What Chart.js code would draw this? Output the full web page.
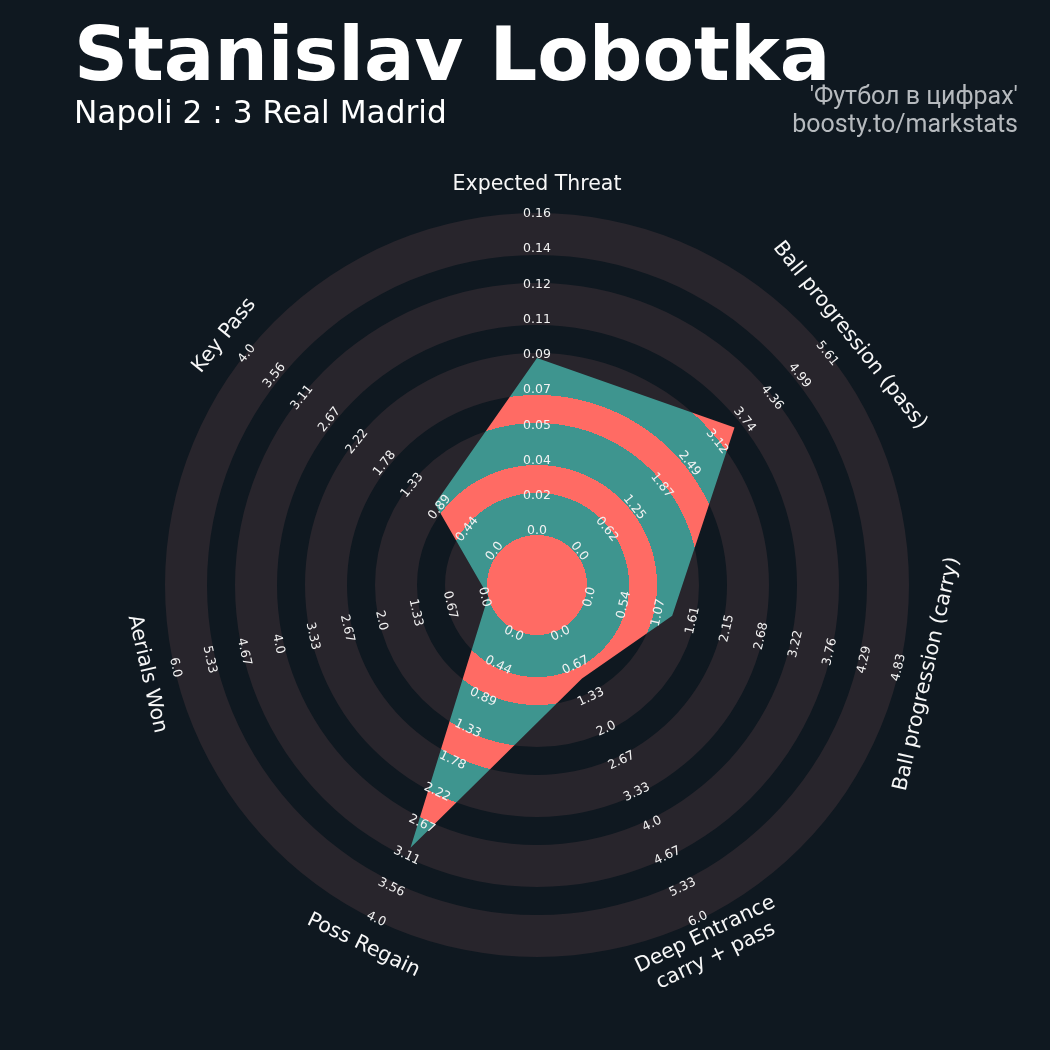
<!DOCTYPE html>
<html>
<head>
<meta charset="utf-8">
<script src="https://cdn.jsdelivr.net/npm/chart.js@4.4.1/dist/chart.umd.min.js"></script>
<style>
  html, body { margin: 0; padding: 0; background: #0f1820; }
  #wrap { position: relative; width: 1050px; height: 1050px; overflow: hidden; }
  #radar { position: absolute; left: 0; top: 0; }
  .txt { position: absolute; white-space: nowrap; line-height: 1; }
  #title { left: 74px; top: 10px; font: bold 75px "DejaVu Sans"; color: #ffffff; }
  #subtitle { left: 74px; top: 94px; font: 31.2px "DejaVu Sans"; color: #ffffff; }
  .credit { right: 32px; font: 25px Roboto; color: #b6babe; text-align: right; }
  #credit1 { top: 81px; }
  #credit2 { top: 109px; }
</style>
</head>
<body>
<div id="wrap">
  <canvas id="radar" width="1050" height="1050"></canvas>
  <div class="txt" id="title">Stanislav Lobotka</div>
  <div class="txt" id="subtitle">Napoli 2 : 3 Real Madrid</div>
  <div class="txt credit" id="credit1">'Футбол в цифрах'</div>
  <div class="txt credit" id="credit2">boosty.to/markstats</div>
</div>
<script>
// parameters, clockwise from the top
const params = [
  ["Expected Threat"],
  ["Ball progression (pass)"],
  ["Ball progression (carry)"],
  ["Deep Entrance", "carry + pass"],
  ["Poss Regain"],
  ["Aerials Won"],
  ["Key Pass"],
];
const lowRange = [0, 0, 0, 0, 0, 0, 0];
const highRange = [0.16, 5.61, 4.83, 6.0, 4.0, 6.0, 4.0];
const values = [0.088, 3.53, 1.33, 1.0, 3.0, 0.0, 1.0];

// range labels printed on each axis (inner -> outer)
const tickLabels = [
  ["0.0", "0.02", "0.04", "0.05", "0.07", "0.09", "0.11", "0.12", "0.14", "0.16"],
  ["0.0", "0.62", "1.25", "1.87", "2.49", "3.12", "3.74", "4.36", "4.99", "5.61"],
  ["0.0", "0.54", "1.07", "1.61", "2.15", "2.68", "3.22", "3.76", "4.29", "4.83"],
  ["0.0", "0.67", "1.33", "2.0", "2.67", "3.33", "4.0", "4.67", "5.33", "6.0"],
  ["0.0", "0.44", "0.89", "1.33", "1.78", "2.22", "2.67", "3.11", "3.56", "4.0"],
  ["0.0", "0.67", "1.33", "2.0", "2.67", "3.33", "4.0", "4.67", "5.33", "6.0"],
  ["0.0", "0.44", "0.89", "1.33", "1.78", "2.22", "2.67", "3.11", "3.56", "4.0"],
];

const STEPS = 9; // intervals between range labels
const CENTER_FRAC = 50 / 372; // centre circle radius / full radius
const RING_GRAY = "#28252c";
const POLY_TEAL = "#3e958f";
const POLY_RED = "#ff6b64";

// value 0 sits on the edge of the centre circle
const scaleMin = -STEPS * CENTER_FRAC / (1 - CENTER_FRAC);

const scaled = values.map((v, i) => (v - lowRange[i]) / (highRange[i] - lowRange[i]) * STEPS);

// ring geometry: centre circle, then 5 gray bands and 4 gaps (3:2 widths)
function ringBands(scale) {
  const rc = scale.getDistanceFromCenterForValue(0);
  const R = scale.drawingArea;
  const part = (R - rc) / 23;
  const rings = [];
  for (let j = 0; j < 5; j++) {
    const inner = rc + j * 5 * part;
    rings.push([inner, inner + 3 * part]);
  }
  return { center: rc, rings: rings, R: R };
}

function polyFill(context) {
  const chart = context.chart;
  const s = chart.scales.r;
  if (!s || !s.drawingArea) return POLY_TEAL;
  const b = ringBands(s);
  const g = chart.ctx.createRadialGradient(s.xCenter, s.yCenter, 0, s.xCenter, s.yCenter, b.R);
  const f = (r) => Math.min(1, r / b.R);
  g.addColorStop(0, POLY_RED);
  g.addColorStop(f(b.center), POLY_RED);
  b.rings.forEach(([a, o], j) => {
    g.addColorStop(f(a), POLY_TEAL);
    g.addColorStop(f(o), POLY_TEAL);
    if (j < b.rings.length - 1) {
      g.addColorStop(f(o), POLY_RED);
      g.addColorStop(f(b.rings[j + 1][0]), POLY_RED);
    }
  });
  return g;
}

// rotate text along the circle, flipping the lower half so it reads upright
function textRotation(angle) {
  const deg = angle * 180 / Math.PI;
  if (deg > 90 && deg < 270) return angle - Math.PI;
  if (deg >= 270) return angle - 2 * Math.PI;
  return angle;
}

const radarDecor = {
  id: "radarDecor",
  beforeDatasetsDraw(chart) {
    const s = chart.scales.r;
    const c = chart.ctx;
    const b = ringBands(s);
    c.save();
    c.fillStyle = RING_GRAY;
    c.beginPath();
    c.arc(s.xCenter, s.yCenter, b.center, 0, 2 * Math.PI);
    c.fill();
    b.rings.forEach(([a, o]) => {
      c.beginPath();
      c.arc(s.xCenter, s.yCenter, o, 0, 2 * Math.PI);
      c.arc(s.xCenter, s.yCenter, a, 0, 2 * Math.PI, true);
      c.fill();
    });
    c.restore();
  },
  afterDatasetsDraw(chart) {
    const s = chart.scales.r;
    const c = chart.ctx;
    c.save();
    c.textAlign = "center";
    c.textBaseline = "middle";
    // range labels
    c.font = '12.5px "DejaVu Sans"';
    c.fillStyle = "#f2f2f2";
    tickLabels.forEach((labels, i) => {
      const rot = textRotation(s.getIndexAngle(i));
      labels.forEach((txt, k) => {
        const d = s.getDistanceFromCenterForValue(k) + 4 - 5 * k / STEPS;
        const p = s.getPointPosition(i, d);
        c.save();
        c.translate(p.x, p.y);
        c.rotate(rot);
        c.fillText(txt, 0, 0);
        c.restore();
      });
    });
    // parameter names
    c.font = '20.5px "DejaVu Sans"';
    c.fillStyle = "#f7f7f7";
    params.forEach((lines, i) => {
      const rot = textRotation(s.getIndexAngle(i));
      const p = s.getPointPosition(i, s.drawingArea + 28);
      c.save();
      c.translate(p.x, p.y);
      c.rotate(rot);
      const lh = 24;
      lines.forEach((ln, j) => {
        c.fillText(ln, 0, (j - (lines.length - 1) / 2) * lh);
      });
      c.restore();
    });
    c.restore();
  },
};

new Chart(document.getElementById("radar"), {
  type: "radar",
  data: {
    labels: params.map((p) => p.join(" ")),
    datasets: [
      {
        data: scaled,
        backgroundColor: polyFill,
        borderWidth: 0,
        pointRadius: 0,
        pointHoverRadius: 0,
        fill: "start",
      },
    ],
  },
  options: {
    responsive: false,
    animation: false,
    events: [],
    layout: { padding: { left: 165, top: 213, right: 141, bottom: 93 } },
    plugins: { legend: { display: false }, tooltip: { enabled: false } },
    scales: {
      r: {
        min: scaleMin,
        max: STEPS,
        ticks: { display: false },
        grid: { display: false },
        angleLines: { display: false },
        pointLabels: { display: false },
      },
    },
  },
  plugins: [radarDecor],
});
</script>
</body>
</html>
